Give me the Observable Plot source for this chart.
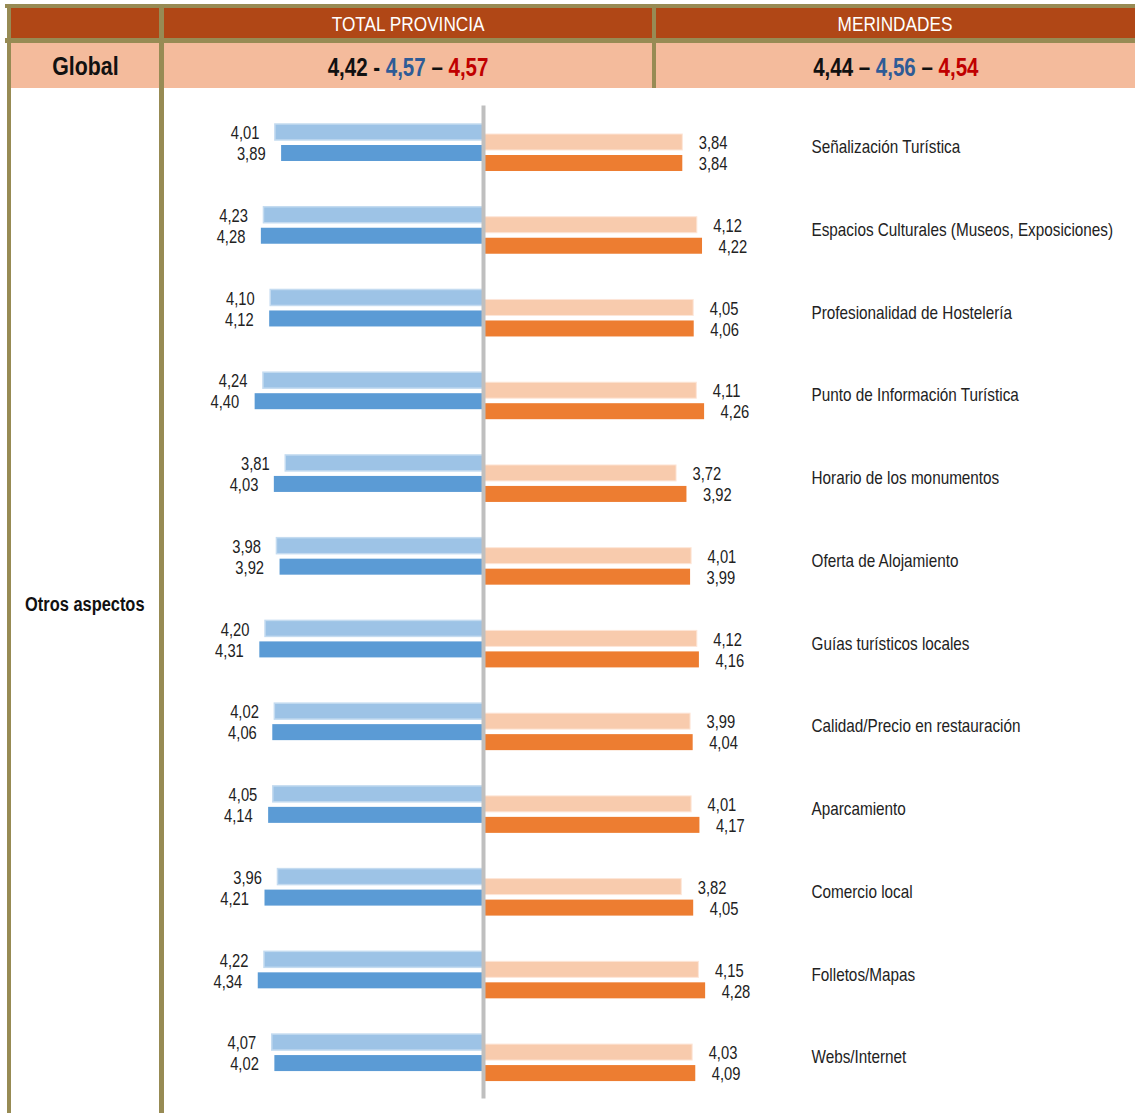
<!DOCTYPE html>
<html><head><meta charset="utf-8">
<script src="https://cdn.jsdelivr.net/npm/d3@7"></script>
<script src="https://cdn.jsdelivr.net/npm/@observablehq/plot@0.6"></script>
<style>
html,body{margin:0;padding:0;background:#fff;}
#page{position:relative;width:1135px;height:1113px;overflow:hidden;
 font-family:"Liberation Sans",Arial,sans-serif;}
.blk{position:absolute;}
.olive{background:#978b54;}
.rust{background:#b04716;}
.peach{background:#f4bb9c;}
.hd{position:absolute;color:#fff;font-size:21px;text-align:center;line-height:30px;}
.gl{position:absolute;font-size:25px;font-weight:bold;text-align:center;line-height:45px;color:#111;}
.nar{display:inline-block;transform:scaleX(0.82);transform-origin:50% 50%;white-space:nowrap;}
#chart{position:absolute;left:0;top:0;}
</style></head>
<body><div id="page">
<div class="blk olive" style="left:5px;top:4px;width:1130px;height:4px"></div>
<div class="blk rust" style="left:10px;top:8px;width:1125px;height:30px"></div>
<div class="blk olive" style="left:5px;top:38px;width:1130px;height:5px"></div>
<div class="blk peach" style="left:10px;top:43px;width:1125px;height:45px"></div>
<div class="blk olive" style="left:7px;top:4px;width:4px;height:1109px"></div>
<div class="blk olive" style="left:159px;top:4px;width:5px;height:1109px"></div>
<div class="blk olive" style="left:652px;top:4px;width:4px;height:84px"></div>
<div class="hd" style="left:164px;top:9px;width:488px"><span class="nar" id="h1"></span></div>
<div class="hd" style="left:656px;top:9px;width:479px"><span class="nar" id="h2"></span></div>
<div class="gl" style="left:11px;top:44px;width:148px;font-size:26px"><span class="nar" id="g0"></span></div>
<div class="gl" style="left:164px;top:45px;width:488px"><span class="nar" id="g1"></span></div>
<div class="gl" style="left:656px;top:45px;width:479px"><span class="nar" id="g2"></span></div>
<div style="position:absolute;left:11px;width:148px;top:590px;line-height:28px;text-align:center;font-size:20px;font-weight:bold;color:#111"><span class="nar" id="side"></span></div>
<div id="chart"></div>
</div>
<script>
// ---- data ----
const headers = ["TOTAL PROVINCIA", "MERINDADES"];
const rowLabel = "Global";
const sideLabel = "Otros aspectos";
const globalProv = ["4,42", "4,57", "4,57"];
const globalMer = ["4,44", "4,56", "4,54"];
const categories = [
  "Señalización Turística",
  "Espacios Culturales (Museos, Exposiciones)",
  "Profesionalidad de Hostelería",
  "Punto de Información Turística",
  "Horario de los monumentos",
  "Oferta de Alojamiento",
  "Guías turísticos locales",
  "Calidad/Precio en restauración",
  "Aparcamiento",
  "Comercio local",
  "Folletos/Mapas",
  "Webs/Internet"
];
const provLight = [4.01, 4.23, 4.10, 4.24, 3.81, 3.98, 4.20, 4.02, 4.05, 3.96, 4.22, 4.07];
const provDark  = [3.89, 4.28, 4.12, 4.40, 4.03, 3.92, 4.31, 4.06, 4.14, 4.21, 4.34, 4.02];
const merLight  = [3.84, 4.12, 4.05, 4.11, 3.72, 4.01, 4.12, 3.99, 4.01, 3.82, 4.15, 4.03];
const merDark   = [3.84, 4.22, 4.06, 4.26, 3.92, 3.99, 4.16, 4.04, 4.17, 4.05, 4.28, 4.09];

// ---- header texts ----
document.getElementById("h1").textContent = headers[0];
document.getElementById("h2").textContent = headers[1];
document.getElementById("g0").textContent = rowLabel;
document.getElementById("side").textContent = sideLabel;
const cols = ["#111", "#2f5b96", "#c00000"];
document.getElementById("g1").innerHTML =
  `<span style="color:${cols[0]}">${globalProv[0]}</span> - <span style="color:${cols[1]}">${globalProv[1]}</span> – <span style="color:${cols[2]}">${globalProv[2]}</span>`;
document.getElementById("g2").innerHTML =
  `<span style="color:${cols[0]}">${globalMer[0]}</span> – <span style="color:${cols[1]}">${globalMer[1]}</span> – <span style="color:${cols[2]}">${globalMer[2]}</span>`;

// ---- chart ----
const rows = categories.map((c, i) => ({cat: c, p1: provLight[i], p2: provDark[i], m1: merLight[i], m2: merDark[i]}));
const fmt = v => d3.format(".2f")(v).replace(".", ",");
const band = 82.73;
const fs = 18;

const chart = Plot.plot({
  width: 1135, height: 1113,
  marginTop: 105.6, marginBottom: 14.6, marginLeft: 223.5, marginRight: 392.5,
  x: {domain: [-5, 5], axis: null},
  y: {domain: categories, padding: 0, round: false, axis: null},
  style: {background: "transparent", fontFamily: '"Liberation Sans",Arial,sans-serif', fontSize: fs + "px", color: "#222", overflow: "visible"},
  marks: [
    Plot.barX(rows, {x1: 0, x2: d => -d.p1, y: "cat", insetTop: 18.4, insetBottom: band - 34.4, fill: "#9dc3e6", stroke: "#c4dbf0", strokeWidth: 1.5}),
    Plot.barX(rows, {x1: 0, x2: d => -d.p2, y: "cat", insetTop: 39.4, insetBottom: band - 55.4, fill: "#5b9bd5"}),
    Plot.barX(rows, {x1: 0, x2: "m1", y: "cat", insetTop: 28.4, insetBottom: band - 44.4, fill: "#f8cbad", stroke: "#fde6d8", strokeWidth: 1}),
    Plot.barX(rows, {x1: 0, x2: "m2", y: "cat", insetTop: 49.4, insetBottom: band - 65.4, fill: "#ed7d31"}),
    Plot.ruleX([0], {stroke: "#bfbfbf", strokeWidth: 4}),
    Plot.text(rows, {x: d => -d.p1, y: "cat", text: d => fmt(d.p1), textAnchor: "end", dx: -16, dy: -14, fill: "#222", className: "val"}),
    Plot.text(rows, {x: d => -d.p2, y: "cat", text: d => fmt(d.p2), textAnchor: "end", dx: -16, dy: 7, fill: "#222", className: "val"}),
    Plot.text(rows, {x: "m1", y: "cat", text: d => fmt(d.m1), textAnchor: "start", dx: 16, dy: -4, fill: "#222", className: "val"}),
    Plot.text(rows, {x: "m2", y: "cat", text: d => fmt(d.m2), textAnchor: "start", dx: 16, dy: 17, fill: "#222", className: "val"}),
    Plot.text(rows, {y: "cat", text: "cat", frameAnchor: "right", dx: 68.5, textAnchor: "start", fill: "#222", className: "cat"})
  ]
});
document.getElementById("chart").appendChild(chart);
// narrow the glyphs (reference uses a condensed face), scaling about each text's anchor
function narrow(sel, k) {
  chart.querySelectorAll(sel).forEach(t => {
    const tr = t.getAttribute("transform");
    if (tr) {
      t.setAttribute("transform", tr + ` scale(${k},1)`);
    } else {
      const x = +(t.getAttribute("x") || 0), y = +(t.getAttribute("y") || 0);
      t.removeAttribute("x"); t.removeAttribute("y");
      t.setAttribute("transform", `translate(${x},${y}) scale(${k},1)`);
    }
  });
}
narrow("g.val text", 0.82);
narrow("g.cat text", 0.85);
</script>
</body></html>
